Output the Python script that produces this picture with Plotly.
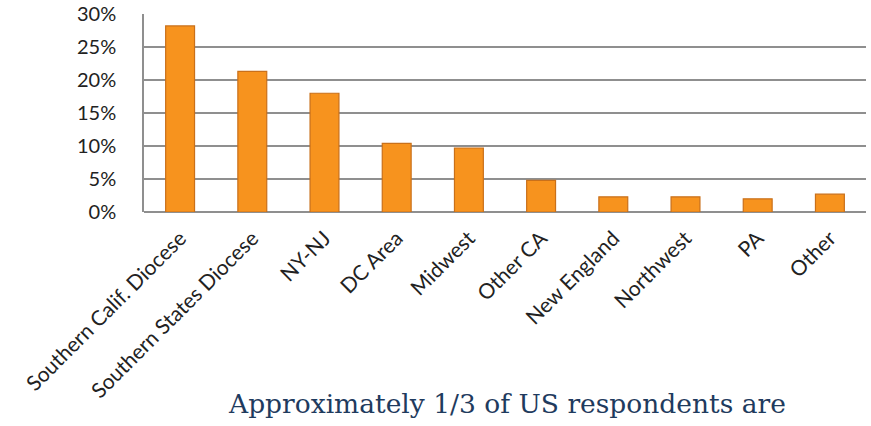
import plotly.graph_objects as go

categories = ["Southern Calif. Diocese", "Southern States Diocese", "NY-NJ", "DC Area",
              "Midwest", "Other CA", "New England", "Northwest", "PA", "Other"]
shares = [0.282, 0.213, 0.180, 0.104, 0.097, 0.048, 0.023, 0.023, 0.020, 0.027]
y_ticks = [0, 0.05, 0.10, 0.15, 0.20, 0.25, 0.30]
caption = "Approximately 1/3 of US respondents are"

fig = go.Figure(go.Bar(
    x=categories, y=shares, width=0.4,
    marker=dict(color="#F7931E", line=dict(color="#C9701A", width=1.2)),
))

fig.update_layout(
    width=871, height=426,
    margin=dict(l=144, r=5, t=14, b=214, autoexpand=False),
    paper_bgcolor="white", plot_bgcolor="white",
    showlegend=False,
    bargap=0.6,
    xaxis=dict(tickangle=-45, tickfont=dict(family="Lato", size=21, color="#222"),
               showgrid=False, showline=False, ticks="", automargin=False,
               ticklabelstandoff=9),
    yaxis=dict(range=[0, 0.3001], tickvals=y_ticks, tickformat=".0%",
               tickfont=dict(family="Lato", size=20, color="#222"),
               showgrid=True, gridcolor="#8f8f8f", gridwidth=1.5,
               showline=True, linecolor="#8f8f8f", linewidth=1.5,
               zeroline=True, zerolinecolor="#8f8f8f", zerolinewidth=1.5,
               ticks="", ticklen=0, ticklabelstandoff=22, automargin=False,
               ticklabeloverflow="allow"),
    annotations=[dict(text=caption, xref="paper", yref="paper", x=0.503, y=-0.965,
                      xanchor="center", yanchor="middle", showarrow=False,
                      font=dict(family="DejaVu Serif", size=26.5, color="#1F3B5E"))],
)

fig.write_html("out.html", config={"displayModeBar": False},
               post_script="document.body.style.margin='0';document.body.style.overflow='hidden';")
